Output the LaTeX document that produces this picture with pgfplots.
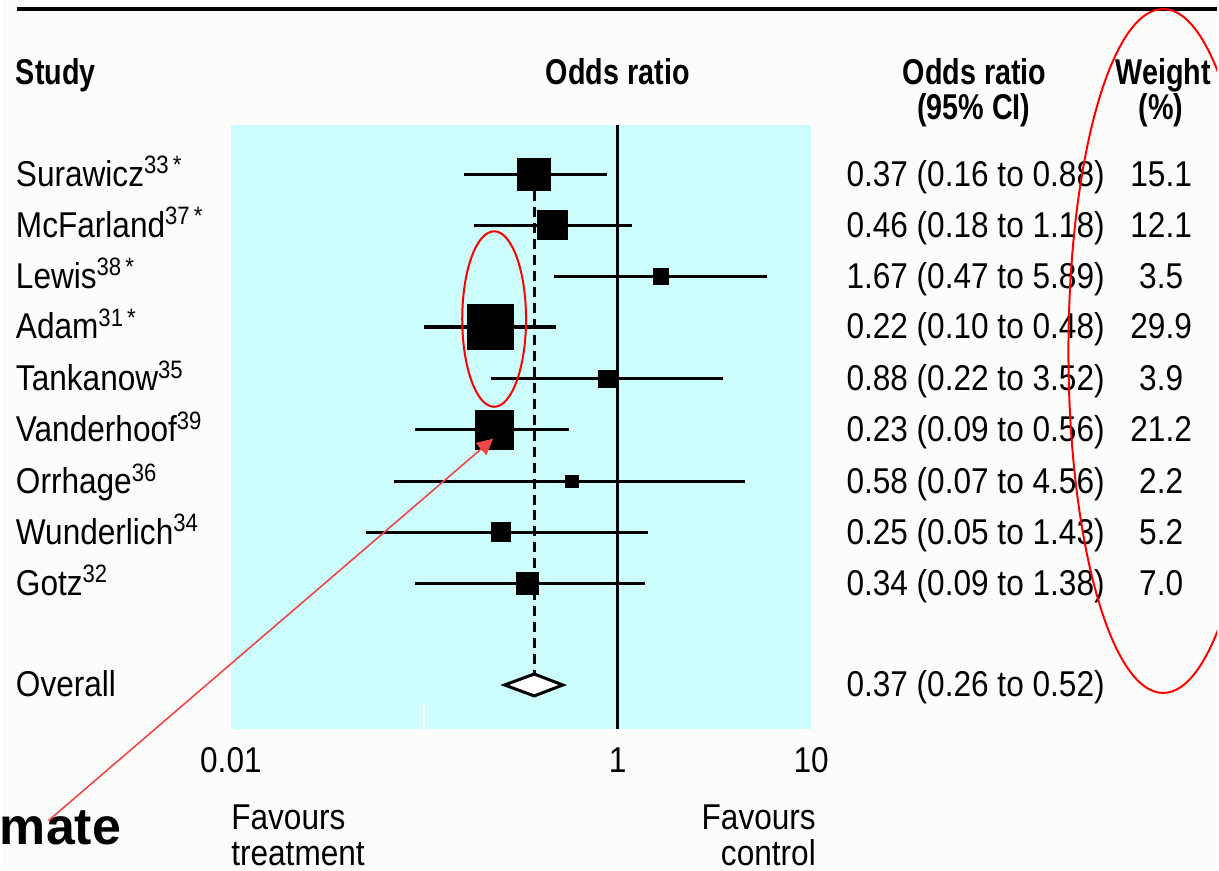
\documentclass[border=0pt]{standalone}
\usepackage{fontspec}
\setmainfont{Liberation Sans}[UprightFeatures={FakeStretch=0.88}, BoldFeatures={FakeStretch=0.8}]
\newfontfamily\wideb{Liberation Sans}
\usepackage{pgfplots}
\usepackage{pgfplotstable}
\pgfplotsset{compat=1.18}
\usetikzlibrary{arrows.meta}
\definecolor{shade}{RGB}{204,252,252}
\definecolor{paper}{RGB}{252,252,250}
\definecolor{annot}{RGB}{240,70,70}

\pgfplotstableread{
y or lo hi w
175 0.37 0.16 0.88 15.1
226 0.46 0.18 1.18 12.1
277 1.67 0.47 5.89 3.5
328 0.22 0.10 0.48 29.9
380 0.88 0.22 3.52 3.9
431 0.23 0.09 0.56 21.2
483 0.58 0.07 4.56 2.2
534 0.25 0.05 1.43 5.2
585 0.34 0.09 1.38 7.0
}\studies

\pgfplotstableread{
x y
0.16 175
0.88 175
nan nan
0.18 226
1.18 226
nan nan
0.47 277
5.89 277
nan nan
0.10 328
0.48 328
nan nan
0.22 380
3.52 380
nan nan
0.09 431
0.56 431
nan nan
0.07 483
4.56 483
nan nan
0.05 534
1.43 534
nan nan
0.09 585
1.38 585
}\cis

\begin{document}
\begin{tikzpicture}[every node/.style={font=\fontsize{18}{21.6}\selectfont, inner sep=0pt}]
\begin{scope}[shift={(-115pt,365.5pt)}, x=0.5pt, y=-0.5pt]
\useasboundingbox (0,0) rectangle (1219,873);
\fill[paper] (0,0) rectangle (1219,873);
\end{scope}

\begin{axis}[
  at={(0,0)}, anchor=south west,
  scale only axis, width=291pt, height=303pt,
  xmode=log, xmin=0.01, xmax=10,
  ymin=125, ymax=731, y dir=reverse,
  axis background/.style={fill=shade},
  axis line style={draw=none},
  tick style={draw=none},
  major tick length=0pt, minor tick length=0pt,
  xtick={0.01,1,10}, xticklabels={0.01,1,10},
  ytick=\empty,
  xticklabel style={anchor=base, yshift=-22pt},
  unbounded coords=jump,
  clip=false,
]
% white tick at 0.1
\addplot[white, line width=1pt] coordinates {(0.1,705) (0.1,731)};
% line of no effect
\addplot[black, line width=1.6pt] coordinates {(1,125) (1,731)};
% overall estimate line
\addplot[black, line width=1.6pt, dash pattern=on 5pt off 3pt] coordinates {(0.37,160) (0.37,676)};
% confidence intervals
\addplot[black, line width=1.6pt] table[x=x, y=y] {\cis};
% study estimates
\addplot[scatter, only marks, mark=square*,
  scatter/use mapped color={draw=black, fill=black},
  mark options={line width=0pt},
  visualization depends on={sqrt(\thisrow{w})*2.1 \as \msz},
  scatter/@pre marker code/.append style={/tikz/mark size=\msz}]
  table[x=or, y=y, meta=w] {\studies};
% overall diamond
\addplot[draw=black, fill=white, line width=1.5pt, line join=miter]
  coordinates {(0.26,687) (0.37,676) (0.52,687) (0.37,698)} -- cycle;
\end{axis}

\begin{scope}[shift={(-115pt,365.5pt)}, x=0.5pt, y=-0.5pt]
\draw[black, line width=2pt] (15,9.5) -- (1219,9.5);
% headers
\node[anchor=base west] at (14,85) {\bfseries Study};
\node[anchor=base] at (618,85) {\bfseries Odds ratio};
\node[anchor=base] at (976,85) {\bfseries Odds ratio};
\node[anchor=base] at (975,120) {\bfseries (95\% CI)};
\node[anchor=base] at (1165,85) {\bfseries Weight};
\node[anchor=base] at (1163,120) {\bfseries (\%)};
% study names
\node[anchor=base west] at (14,187) {Surawicz\textsuperscript{33\,*}};
\node[anchor=base west] at (14,238) {McFarland\textsuperscript{37\,*}};
\node[anchor=base west] at (14,289) {Lewis\textsuperscript{38\,*}};
\node[anchor=base west] at (14,340) {Adam\textsuperscript{31\,*}};
\node[anchor=base west] at (14,392) {Tankanow\textsuperscript{35}};
\node[anchor=base west] at (14,443) {Vanderhoof\textsuperscript{39}};
\node[anchor=base west] at (14,495) {Orrhage\textsuperscript{36}};
\node[anchor=base west] at (14,546) {Wunderlich\textsuperscript{34}};
\node[anchor=base west] at (14,597) {Gotz\textsuperscript{32}};
\node[anchor=base west] at (14,699) {Overall};
% odds ratios
\node[anchor=base west] at (847,187) {0.37 (0.16 to 0.88)};
\node[anchor=base west] at (847,238) {0.46 (0.18 to 1.18)};
\node[anchor=base west] at (847,289) {1.67 (0.47 to 5.89)};
\node[anchor=base west] at (847,340) {0.22 (0.10 to 0.48)};
\node[anchor=base west] at (847,392) {0.88 (0.22 to 3.52)};
\node[anchor=base west] at (847,443) {0.23 (0.09 to 0.56)};
\node[anchor=base west] at (847,495) {0.58 (0.07 to 4.56)};
\node[anchor=base west] at (847,546) {0.25 (0.05 to 1.43)};
\node[anchor=base west] at (847,597) {0.34 (0.09 to 1.38)};
\node[anchor=base west] at (847,699) {0.37 (0.26 to 0.52)};
% weights
\node[anchor=base] at (1163,187) {15.1};
\node[anchor=base] at (1163,238) {12.1};
\node[anchor=base] at (1163,289) {3.5};
\node[anchor=base] at (1163,340) {29.9};
\node[anchor=base] at (1163,392) {3.9};
\node[anchor=base] at (1163,443) {21.2};
\node[anchor=base] at (1163,495) {2.2};
\node[anchor=base] at (1163,546) {5.2};
\node[anchor=base] at (1163,597) {7.0};
% favours
\node[anchor=base west] at (230,832) {Favours};
\node[anchor=base west] at (230,868) {treatment};
\node[anchor=base east] at (817,832) {Favours};
\node[anchor=base east] at (817,868) {control};
% annotations
\node[anchor=base west] at (-2,847) {\wideb\bfseries\fontsize{26}{30}\selectfont mate};
\draw[annot, line width=0.8pt, -{Triangle[length=8pt,width=8pt]}] (47,823) -- (493,440);
\draw[red, line width=1pt] (494,320) ellipse [x radius=32, y radius=88];
\begin{scope}
\clip (0,0) rectangle (1219,873);
\draw[red, line width=1pt] (1165,352) ellipse [x radius=95, y radius=343];
\end{scope}
\end{scope}
\end{tikzpicture}
\end{document}
